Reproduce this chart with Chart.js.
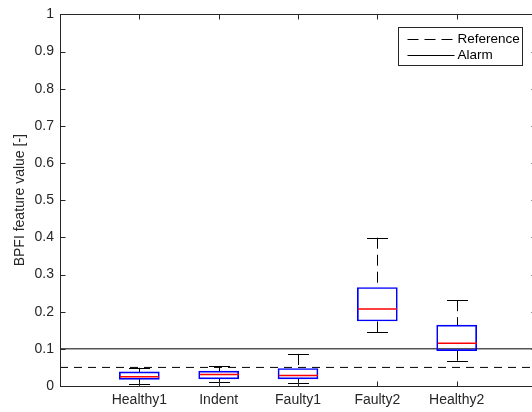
<!DOCTYPE html>
<html>
<head>
<meta charset="UTF-8">
<title>BPFI feature value</title>
<style>
  html, body { margin: 0; padding: 0; overflow: hidden; background: #fff; }
  #wrap { position: relative; width: 540px; height: 412px; }
</style>
</head>
<body>
<div id="wrap"><canvas id="bpfi"></canvas></div>

<script src="https://cdn.jsdelivr.net/npm/chart.js@4/dist/chart.umd.min.js"></script>
<script>
  // values
  var categories = ['Healthy1', 'Indent', 'Faulty1', 'Faulty2', 'Healthy2'];
  var whiskerLow  = [0.005, 0.011, 0.009, 0.144, 0.068];
  var q1          = [0.018, 0.019, 0.019, 0.175, 0.095];
  var median      = [0.025, 0.031, 0.028, 0.207, 0.115];
  var q3          = [0.038, 0.040, 0.047, 0.265, 0.164];
  var whiskerHigh = [0.049, 0.054, 0.086, 0.399, 0.231];
  var referenceLevel = 0.05;
  var alarmLevel = 0.1;

  var axisColor = '#262626';
  var font = 'Liberation Sans, Arial, Helvetica, sans-serif';
  var boxWidth = 40;
  var capWidth = 20;
  var tickLen = 5;

  var crisp = function(v) { return Math.round(v) + 0.5; };

  var boxData = categories.map(function(c, i) {
    return { x: i + 1, y: [q1[i], q3[i]] };
  });
  var levelLine = function(level) {
    return [{ x: 0, y: level }, { x: categories.length + 1, y: level }];
  };

  // whiskers, caps, medians, inward ticks, frame and legend
  var boxplotExtras = {
    id: 'boxplotExtras',
    afterDatasetsDraw: function(chart) {
      var ctx = chart.ctx;
      var xs = chart.scales.x, ys = chart.scales.y;
      ctx.save();
      ctx.lineWidth = 1;
      for (var i = 0; i < categories.length; i++) {
        var cx = Math.round(xs.getPixelForValue(i + 1));
        var px = cx + 0.5;
        // dashed whiskers
        ctx.strokeStyle = '#000';
        ctx.setLineDash([11, 6]);
        ctx.beginPath();
        ctx.moveTo(px, ys.getPixelForValue(whiskerHigh[i]));
        ctx.lineTo(px, ys.getPixelForValue(q3[i]));
        ctx.moveTo(px, ys.getPixelForValue(whiskerLow[i]));
        ctx.lineTo(px, ys.getPixelForValue(q1[i]));
        ctx.stroke();
        // caps
        ctx.setLineDash([]);
        ctx.beginPath();
        var yh = crisp(ys.getPixelForValue(whiskerHigh[i]));
        var yl = crisp(ys.getPixelForValue(whiskerLow[i]));
        ctx.moveTo(cx - capWidth / 2, yh);
        ctx.lineTo(cx + capWidth / 2 + 1, yh);
        ctx.moveTo(cx - capWidth / 2, yl);
        ctx.lineTo(cx + capWidth / 2 + 1, yl);
        ctx.stroke();
        // median
        var ym = ys.getPixelForValue(median[i]);
        ctx.strokeStyle = '#ff0000';
        ctx.lineWidth = 1.5;
        ctx.beginPath();
        ctx.moveTo(cx - boxWidth / 2 + 1, ym);
        ctx.lineTo(cx + boxWidth / 2, ym);
        ctx.stroke();
        ctx.lineWidth = 1;
      }
      ctx.restore();
    },
    afterDraw: function(chart) {
      var ctx = chart.ctx;
      var a = chart.chartArea;
      var xs = chart.scales.x, ys = chart.scales.y;
      var l = crisp(a.left), r = crisp(a.right), t = crisp(a.top), b = crisp(a.bottom);
      ctx.save();
      ctx.lineWidth = 1;
      ctx.strokeStyle = axisColor;
      ctx.setLineDash([]);
      ctx.strokeRect(l, t, r - l, b - t);
      ctx.beginPath();
      ys.ticks.forEach(function(tk) {
        var y = crisp(ys.getPixelForValue(tk.value));
        ctx.moveTo(l, y); ctx.lineTo(l + tickLen, y);
        ctx.moveTo(r, y); ctx.lineTo(r - tickLen, y);
      });
      xs.ticks.forEach(function(tk) {
        var x = crisp(xs.getPixelForValue(tk.value));
        ctx.moveTo(x, b); ctx.lineTo(x, b - tickLen);
        ctx.moveTo(x, t); ctx.lineTo(x, t + tickLen);
      });
      ctx.stroke();

      // legend box in the top right corner
      var lx = crisp(a.right - 138), ly = crisp(a.top + 13);
      var lw = 124, lh = 38;
      ctx.fillStyle = '#fff';
      ctx.fillRect(lx, ly, lw, lh);
      ctx.strokeStyle = axisColor;
      ctx.strokeRect(lx, ly, lw, lh);
      var items = chart.data.datasets.filter(function(d) { return d.type === 'line'; });
      ctx.font = '13.5px ' + font;
      ctx.textAlign = 'left';
      ctx.textBaseline = 'middle';
      items.forEach(function(d, k) {
        var y = Math.round(ly + 11 + k * 16) + 0.5;
        ctx.strokeStyle = d.borderColor;
        ctx.setLineDash(d.borderDash ? [11, 6] : []);
        ctx.beginPath();
        ctx.moveTo(lx + 9, y);
        ctx.lineTo(lx + 56, y);
        ctx.stroke();
        ctx.fillStyle = '#000';
        ctx.fillText(d.label, lx + 59, y);
      });
      ctx.restore();
    }
  };

  var chart = new Chart(document.getElementById('bpfi'), {
    data: {
      datasets: [
        {
          type: 'bar',
          label: 'Box',
          data: boxData,
          barThickness: boxWidth,
          borderColor: '#0000ff',
          backgroundColor: 'rgba(0,0,0,0)',
          borderWidth: 1,
          borderSkipped: false
        },
        {
          type: 'line',
          label: 'Reference',
          data: levelLine(referenceLevel),
          borderColor: '#000',
          borderWidth: 1,
          borderDash: [8, 6],
          pointRadius: 0,
          fill: false
        },
        {
          type: 'line',
          label: 'Alarm',
          data: levelLine(alarmLevel),
          borderColor: '#000',
          borderWidth: 1,
          pointRadius: 0,
          fill: false
        }
      ]
    },
    options: {
      responsive: true,
      maintainAspectRatio: false,
      animation: false,
      layout: { padding: { top: 10, right: 4, bottom: 0, left: 0 } },
      plugins: {
        legend: { display: false },
        tooltip: { enabled: false }
      },
      scales: {
        x: {
          type: 'linear',
          offset: false,
          min: 0,
          max: categories.length + 1,
          grid: { display: false, drawTicks: false, offset: false },
          border: { display: false },
          afterBuildTicks: function(scale) {
            scale.ticks = categories.map(function(c, i) { return { value: i + 1 }; });
          },
          afterFit: function(scale) { scale.height = 26; },
          ticks: {
            autoSkip: false,
            maxRotation: 0,
            padding: 6,
            color: axisColor,
            font: { family: font, size: 14 },
            callback: function(v) { return categories[v - 1]; }
          }
        },
        y: {
          min: 0,
          max: 1,
          grid: { display: false, drawTicks: false },
          border: { display: false },
          afterFit: function(scale) { scale.width = 60; },
          ticks: {
            stepSize: 0.1,
            padding: 6,
            color: axisColor,
            font: { family: font, size: 14 },
            callback: function(v) { return String(Math.round(v * 10) / 10); }
          },
          title: {
            display: true,
            text: 'BPFI feature value [-]',
            color: axisColor,
            font: { family: font, size: 14 },
            padding: { top: 12, bottom: 0 }
          }
        }
      }
    },
    plugins: [boxplotExtras]
  });
</script>
</body>
</html>
